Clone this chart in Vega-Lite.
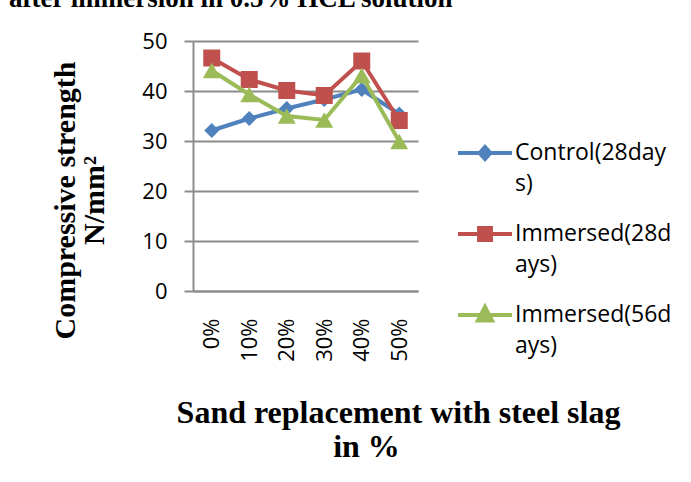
{
  "$schema": "https://vega.github.io/schema/vega-lite/v6.json",
  "width": 225,
  "height": 250,
  "autosize": {"type": "none"},
  "padding": {"left": 193, "top": 41, "right": 273, "bottom": 191},
  "background": "white",
  "title": {
    "text": "after immersion in 0.5% HCL solution",
    "anchor": "start",
    "frame": "group",
    "font": "Liberation Serif",
    "fontSize": 27,
    "fontWeight": "bold",
    "color": "black",
    "baseline": "alphabetic",
    "offset": 0,
    "dx": -184,
    "dy": 4
  },
  "data": {
    "values": [
      {"pct": "0%", "series": "Control(28days)", "value": 32.1},
      {"pct": "10%", "series": "Control(28days)", "value": 34.5},
      {"pct": "20%", "series": "Control(28days)", "value": 36.5},
      {"pct": "30%", "series": "Control(28days)", "value": 38.3},
      {"pct": "40%", "series": "Control(28days)", "value": 40.3},
      {"pct": "50%", "series": "Control(28days)", "value": 35.4},
      {"pct": "0%", "series": "Immersed(28days)", "value": 46.6},
      {"pct": "10%", "series": "Immersed(28days)", "value": 42.3},
      {"pct": "20%", "series": "Immersed(28days)", "value": 40.1},
      {"pct": "30%", "series": "Immersed(28days)", "value": 39.1},
      {"pct": "40%", "series": "Immersed(28days)", "value": 46.0},
      {"pct": "50%", "series": "Immersed(28days)", "value": 34.1},
      {"pct": "0%", "series": "Immersed(56days)", "value": 44.1},
      {"pct": "10%", "series": "Immersed(56days)", "value": 39.3},
      {"pct": "20%", "series": "Immersed(56days)", "value": 35.0},
      {"pct": "30%", "series": "Immersed(56days)", "value": 34.2},
      {"pct": "40%", "series": "Immersed(56days)", "value": 43.1},
      {"pct": "50%", "series": "Immersed(56days)", "value": 29.9}
    ]
  },
  "encoding": {
    "x": {
      "field": "pct",
      "type": "ordinal",
      "sort": null,
      "scale": {"domain": ["0%", "10%", "20%", "30%", "40%", "50%"], "paddingInner": 0, "paddingOuter": 0},
      "axis": {
        "labelAngle": -90,
        "labelPadding": 27,
        "ticks": false,
        "labelFont": "Open Sans",
        "labelFontSize": 22,
        "labelColor": "black",
        "domainColor": "#8c8c8c",
        "domainWidth": 2,
        "title": ["Sand replacement with steel slag", "in %\u2003\u2003\u200b"],
        "titleFont": "Liberation Serif",
        "titleFontSize": 32,
        "titleFontWeight": "bold",
        "titleColor": "black",
        "titleX": 205,
        "titleY": 131,
        "titleAlign": "center",
        "titleBaseline": "alphabetic",
        "titleLineHeight": 34
      }
    },
    "y": {
      "field": "value",
      "type": "quantitative",
      "scale": {"domain": [0, 50]},
      "axis": {
        "values": [0, 10, 20, 30, 40, 50],
        "labelFont": "Open Sans",
        "labelFontSize": 22,
        "labelColor": "black",
        "labelPadding": 17,
        "tickSize": 9,
        "tickColor": "#8c8c8c",
        "tickWidth": 2,
        "domainColor": "#8c8c8c",
        "domainWidth": 2,
        "gridColor": "#8c8c8c",
        "gridWidth": 2,
        "title": ["Compressive strength", "N/mm²"],
        "titleFont": "Liberation Serif",
        "titleFontSize": 30,
        "titleFontWeight": "bold",
        "titleColor": "black",
        "titleAngle": -90,
        "titleX": -143,
        "titleY": 159,
        "titleAlign": "center",
        "titleBaseline": "top",
        "titleLineHeight": 29
      }
    },
    "color": {
      "field": "series",
      "type": "nominal",
      "sort": null,
      "scale": {
        "domain": ["Control(28days)", "Immersed(28days)", "Immersed(56days)"],
        "range": ["#4F81BD", "#C0504D", "#9BBB59"]
      },
      "legend": {
        "orient": "none",
        "legendX": 263,
        "legendY": 83,
        "padding": 0,
        "title": null,
        "symbolSize": 2916,
        "labelFont": "Open Sans",
        "labelFontSize": 23,
        "labelColor": "black",
        "labelOffset": 1,
        "rowPadding": 9,
        "labelLimit": 400,
        "labelBaseline": "middle",
        "labelExpr": "datum.label === 'Control(28days)' ? ['Control(28day', 's)'] : datum.label === 'Immersed(28days)' ? ['Immersed(28d', 'ays)'] : ['Immersed(56d', 'ays)']",
        "encode": {
          "symbols": {
            "update": {
              "shape": {"signal": "datum.value === 'Control(28days)' ? 'M-1,0H1M-0.2,0L0,-0.22L0.2,0L0,0.22Z' : datum.value === 'Immersed(28days)' ? 'M-1,0H1M-0.22,-0.22H0.22V0.22H-0.22Z' : 'M-1,0H1M0,-0.3L0.26,0.2H-0.26Z'"},
              "fill": {"scale": "color", "field": "value"},
              "stroke": {"scale": "color", "field": "value"},
              "strokeWidth": {"value": 4},
              "opacity": {"value": 1},
              "fillOpacity": {"value": 1},
              "strokeOpacity": {"value": 1}
            }
          },
          "labels": {
            "update": {
              "lineHeight": {"value": 31}
            }
          }
        }
      }
    }
  },
  "layer": [
    {
      "transform": [{"filter": "datum.series === 'Control(28days)'"}],
      "layer": [
        {"mark": {"type": "line", "strokeWidth": 4}},
        {"mark": {"type": "point", "shape": "diamond", "size": 225, "filled": true, "opacity": 1}}
      ]
    },
    {
      "transform": [{"filter": "datum.series === 'Immersed(28days)'"}],
      "layer": [
        {"mark": {"type": "line", "strokeWidth": 4}},
        {"mark": {"type": "point", "shape": "square", "size": 289, "filled": true, "opacity": 1}}
      ]
    },
    {
      "transform": [{"filter": "datum.series === 'Immersed(56days)'"}],
      "layer": [
        {"mark": {"type": "line", "strokeWidth": 4}},
        {"mark": {"type": "point", "shape": "triangle-up", "size": 324, "filled": true, "opacity": 1}}
      ]
    }
  ],
  "config": {"view": {"stroke": null}}
}
